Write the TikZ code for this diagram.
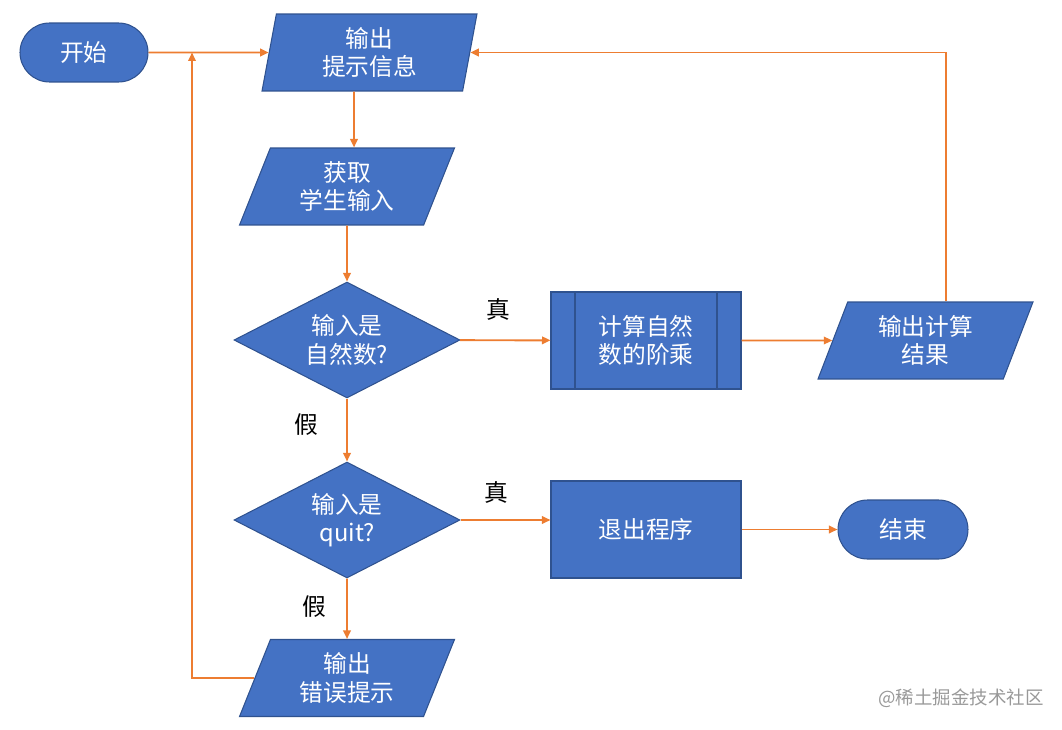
\documentclass[tikz,border=0pt]{standalone}
\usepackage{fontspec}
\setmainfont{Noto Sans CJK SC}
\usepackage{tikz}
\usetikzlibrary{arrows.meta,shapes.geometric}

\definecolor{boxblue}{HTML}{4472C4}
\definecolor{edgeblue}{HTML}{2F528F}
\definecolor{arrorange}{HTML}{ED7D31}

\tikzset{
  base/.style={draw=edgeblue,line width=0.6pt,fill=boxblue,text=white,align=center,
    font=\fontsize{13.5pt}{16pt}\selectfont,inner sep=1pt},
  startstop/.style={base,rectangle,rounded corners=0.59cm,minimum width=2.56cm,minimum height=1.18cm},
  io/.style 2 args={base,trapezium,trapezium left angle=#1,trapezium right angle=#2,
    trapezium stretches body,minimum width=4.3cm,minimum height=1.54cm},
  decision/.style={base,diamond,aspect=2,minimum width=4.52cm,minimum height=2.32cm,inner sep=0pt},
  process/.style={base,rectangle,minimum width=3.8cm,minimum height=1.94cm},
  subproc/.style={process,path picture={
    \draw[edgeblue,line width=0.6pt]
      ([xshift=0.48cm]path picture bounding box.north west) -- ([xshift=0.48cm]path picture bounding box.south west)
      ([xshift=-0.48cm]path picture bounding box.north east) -- ([xshift=-0.48cm]path picture bounding box.south east);}},
  note/.style={font=\fontsize{13.5pt}{16pt}\selectfont},
  link/.style={draw=arrorange,line width=1.1pt,-{Triangle[length=1.7mm,width=1.5mm]}}
}

\begin{document}
\begin{tikzpicture}[x=0.02cm,y=-0.02cm]
\useasboundingbox (0,0) rectangle (1062,730);
\node[startstop] (1) at (84,52.5){开始};
\node[io={75}{105}] (2) at (369.5,52.5){输出\\提示信息};
\node[io={60}{120}] (3) at (347,186.5){获取\\学生输入};
\node[decision] (4) at (347,340){输入是\\自然数?};
\node[subproc] (5) at (646,340.5){计算自然\\数的阶乘};
\node[io={61}{119}] (6) at (925.5,340.5){输出计算\\结果};
\node[decision] (7) at (347,520){输入是\\quit?};
\node[process] (8) at (646,529.5){退出程序};
\node[startstop,minimum width=2.6cm] (9) at (903,529.5){结束};
\node[io={60}{120}] (10) at (347,678){输出\\错误提示};
\coordinate (j) at (192,52.5);
% branch labels
\node[note] (t1) at (498,309){真};
\node[note] (f1) at (306,425){假};
\node[note] (t2) at (496,492){真};
\node[note] (f2) at (314,607){假};
\node[text=black!40,font=\fontsize{10.5pt}{12pt}\selectfont] (wm) at (961,698){@稀土掘金技术社区};
\foreach \from/\to in {1/2,3/4,4/5,5/6,4/7,7/10,8/9}
  \draw[link] (\from) -- (\to);
\draw[link] ([xshift=-0.31cm]2.south) -- ([xshift=0.14cm]3.north);
\draw[link] (7.east) -- (7.east -| 8.west);
\draw[link] ([xshift=0.41cm]6.north) |- (2.east);
\draw[link] (10.west) -| (j);
\end{tikzpicture}
\end{document}
